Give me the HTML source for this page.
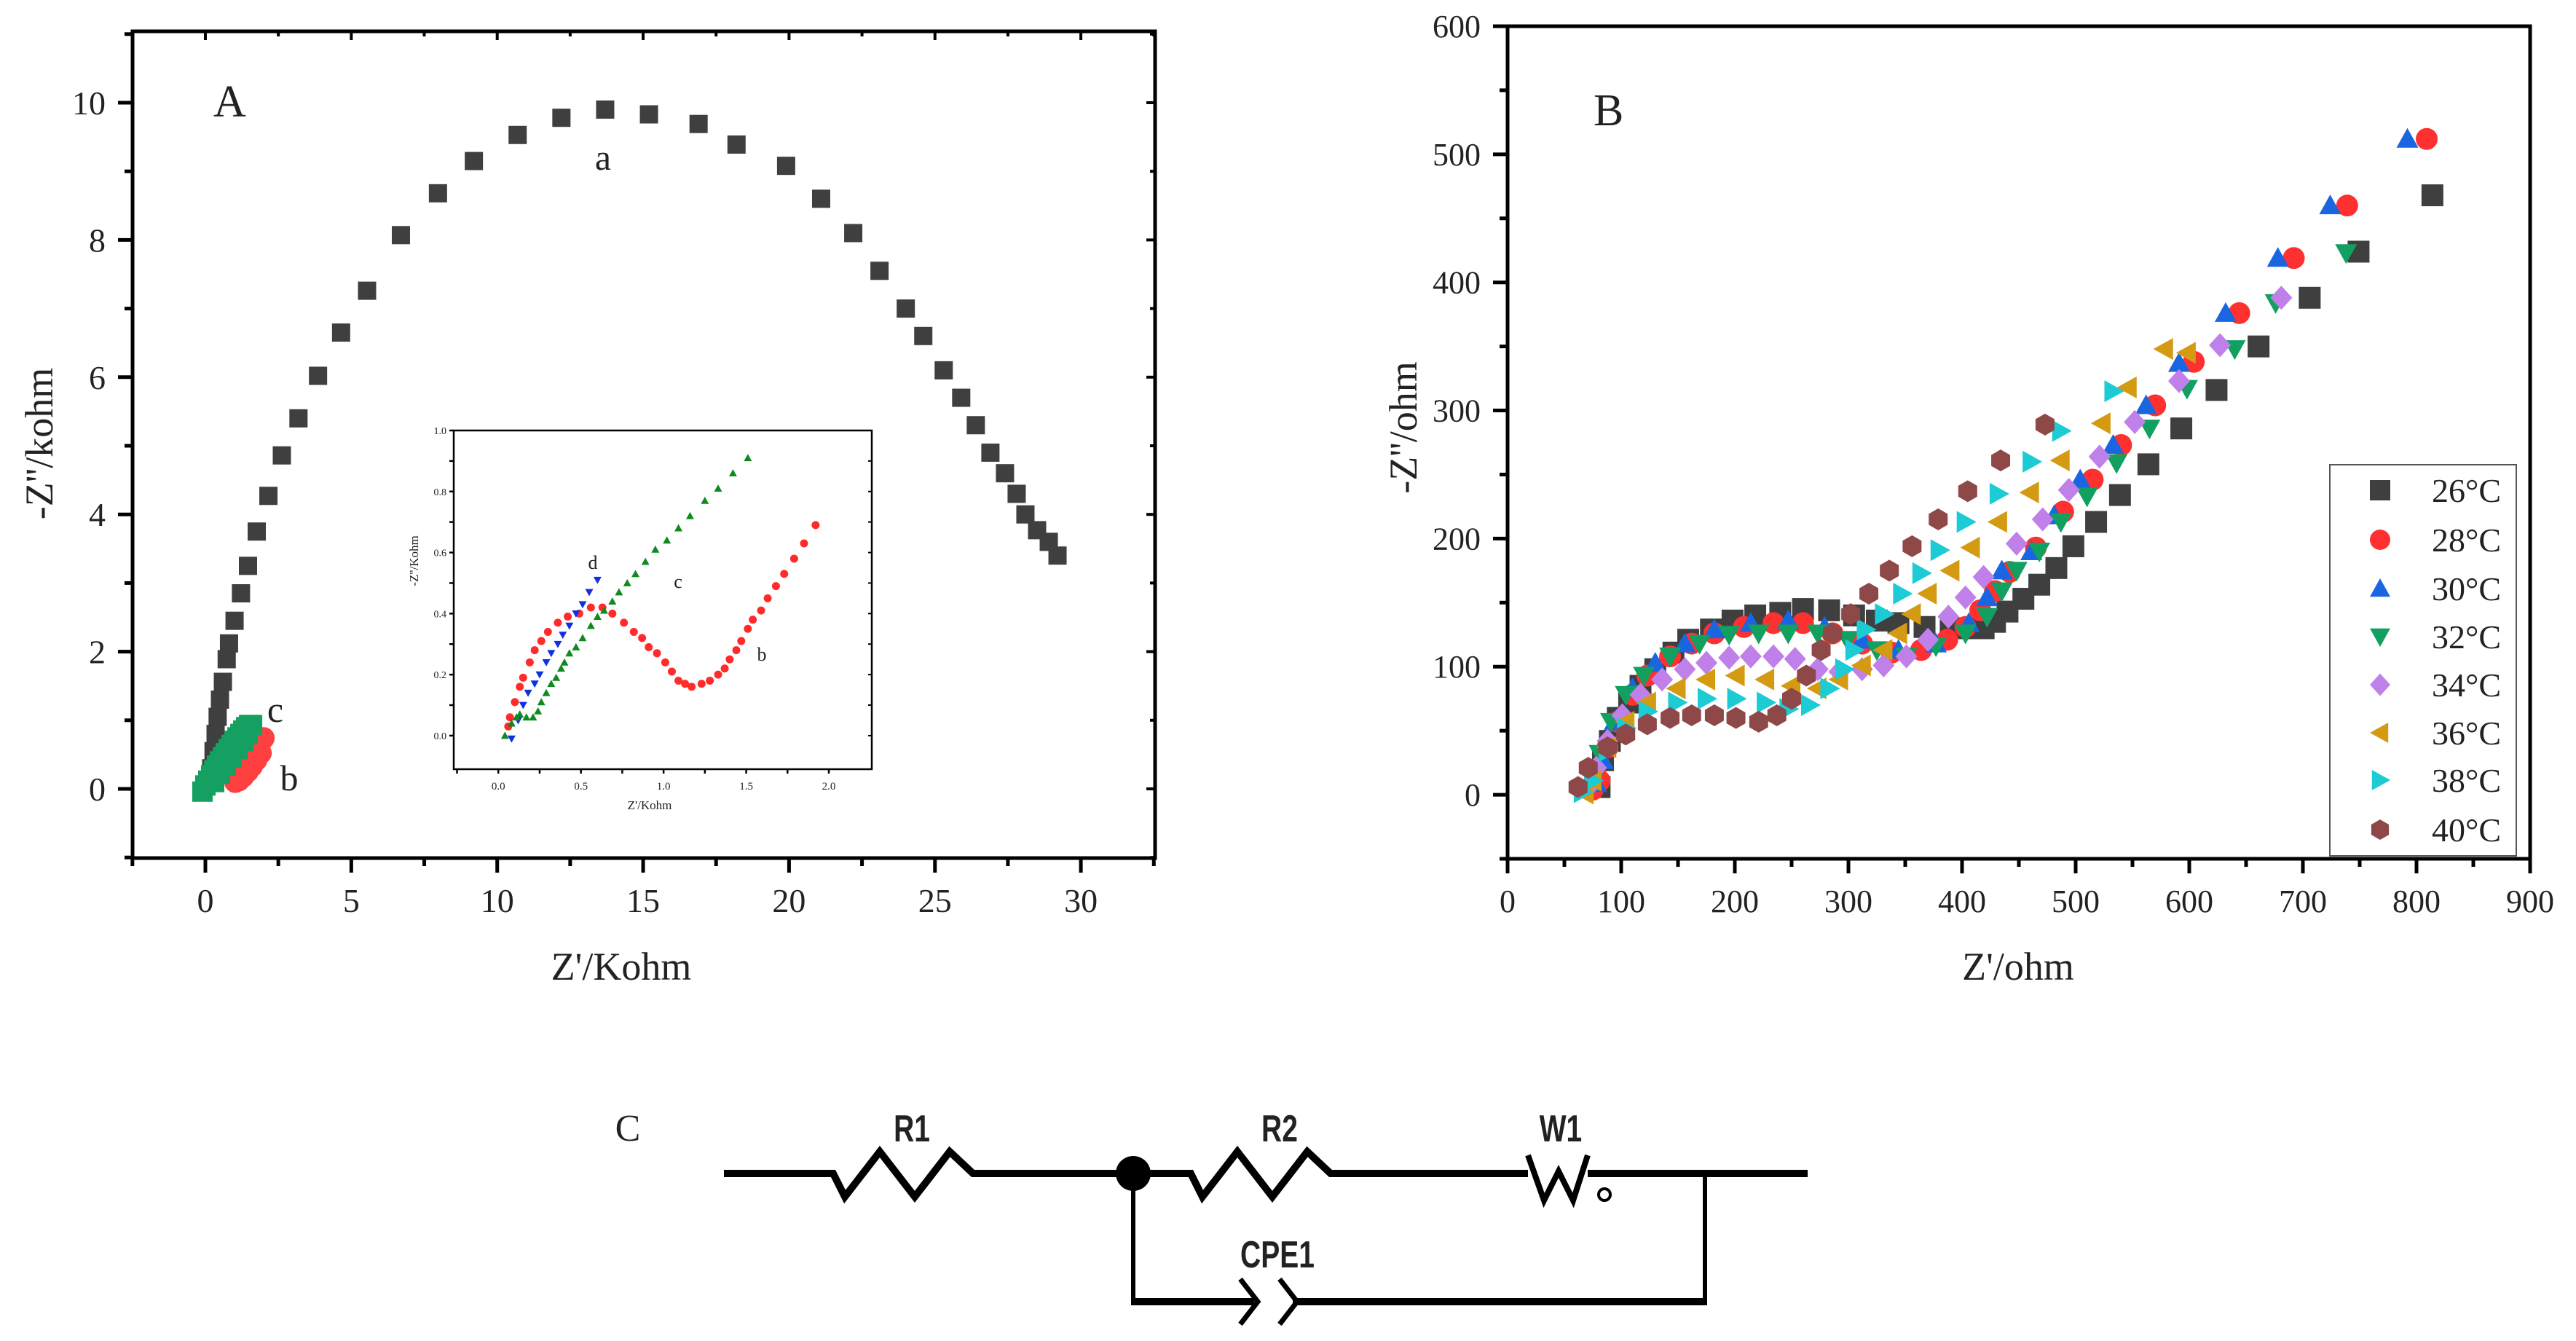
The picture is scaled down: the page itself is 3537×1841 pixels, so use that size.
<!DOCTYPE html>
<html><head><meta charset="utf-8"><style>
html,body{margin:0;padding:0;background:#fff;}
svg{display:block;}
text{font-family:"Liberation Serif",serif;fill:#222;}
</style></head><body>
<svg id="fig" width="3537" height="1841" viewBox="0 0 3537 1841" xmlns="http://www.w3.org/2000/svg">
<rect width="3537" height="1841" fill="#fff"/>
<g id="panelA"></g>
<g id="inset"></g>
<g id="panelB"></g>
<g id="circuit" stroke="#000" fill="none" stroke-linejoin="miter">
  <text x="862" y="1566" font-size="52" stroke="none" fill="#222" text-anchor="middle">C</text>
  <polyline stroke-width="10" points="994,1611 1144,1611 1160,1643 1208,1581 1256,1643 1304,1581 1336,1611 1635,1611 1651,1643 1699,1581 1747,1643 1795,1581 1827,1611 2098,1611"/>
  <polyline stroke-width="8" points="2098,1586 2120,1648 2140,1608 2160,1648 2180,1586"/>
  <circle cx="2203" cy="1640" r="8" stroke-width="4"/>
  <line stroke-width="10" x1="2180" y1="1611" x2="2482" y2="1611"/>
  <circle cx="1556" cy="1611" r="24" fill="#000" stroke="none"/>
  <line stroke-width="6" x1="1556" y1="1611" x2="1556" y2="1787"/>
  <line stroke-width="6" x1="2341" y1="1611" x2="2341" y2="1790"/>
  <line stroke-width="10" x1="1553" y1="1787" x2="1722" y2="1787"/>
  <line stroke-width="10" x1="1775" y1="1787" x2="2344" y2="1787"/>
  <polyline stroke-width="7" points="1703,1756 1727,1787 1703,1818"/>
  <polyline stroke-width="7" points="1757,1756 1781,1787 1757,1818"/>
  <g stroke="none" font-size="52" text-anchor="middle" font-weight="bold">
    <text x="1252" y="1567" style="font-family:'Liberation Sans',sans-serif" transform="translate(1252,0) scale(0.75,1) translate(-1252,0)">R1</text>
    <text x="1757" y="1567" style="font-family:'Liberation Sans',sans-serif" transform="translate(1757,0) scale(0.75,1) translate(-1757,0)">R2</text>
    <text x="2143" y="1567" style="font-family:'Liberation Sans',sans-serif" transform="translate(2143,0) scale(0.75,1) translate(-2143,0)">W1</text>
    <text x="1754" y="1740" style="font-family:'Liberation Sans',sans-serif" transform="translate(1754,0) scale(0.75,1) translate(-1754,0)">CPE1</text>
  </g>
</g>
</svg>
<script>
// ===== Panel A main data (kohm) =====
const aX = [29.2,28.9,28.5,28.1,27.8,27.4,26.9,26.4,25.9,25.3,24.6,24.0,23.1,22.2,21.1,19.9,18.2,16.9,15.2,13.7,12.2,10.7,9.2,7.97,6.7,5.54,4.65,3.86,3.19,2.62,2.16,1.76,1.46,1.22,1.0,0.81,0.73,0.6,0.5,0.42,0.35,0.28,0.2,0.12];
const aY = [3.4,3.6,3.77,4.0,4.3,4.6,4.9,5.3,5.7,6.1,6.6,7.0,7.55,8.1,8.6,9.08,9.39,9.69,9.83,9.9,9.78,9.53,9.15,8.68,8.07,7.26,6.65,6.02,5.4,4.86,4.27,3.75,3.25,2.85,2.45,2.12,1.89,1.56,1.3,1.05,0.8,0.55,0.3,0.1];
const bMainX = [1.02,1.1,1.2,1.3,1.4,1.5,1.6,1.7,1.8,1.9,2.0,1.15,1.3,1.45,1.6,1.75,1.9];
const bMainY = [0.1,0.16,0.23,0.3,0.37,0.43,0.5,0.56,0.62,0.68,0.74,0.12,0.18,0.25,0.33,0.42,0.52];
const cMainX = [-0.1,0.0,0.1,0.2,0.3,0.4,0.5,0.6,0.7,0.8,0.9,1.0,1.1,1.2,1.3,1.4,1.5,1.6,0.3,0.5,0.7,0.9,1.1,1.3,1.45];
const cMainY = [-0.04,0.05,0.12,0.2,0.27,0.34,0.4,0.46,0.52,0.58,0.64,0.7,0.75,0.8,0.85,0.9,0.93,0.93,0.1,0.22,0.34,0.46,0.58,0.7,0.8];
const dMainX = [0.0,0.05,0.1,0.15,0.2,0.25];
const dMainY = [-0.05,0.0,0.03,0.06,0.08,0.1];
const aXTicks = [0,5,10,15,20,25,30];
const aYTicks = [0,2,4,6,8,10];
// ===== Inset data =====
const inCX = [1.51,1.42,1.33,1.25,1.16,1.09,1.02,0.95,0.89,0.83,0.78,0.73,0.69,0.64,0.60,0.56,0.51,0.47,0.43,0.40,0.38,0.35,0.32,0.29,0.26,0.24,0.21,0.17,0.13,0.11,0.08,0.04];
const inCY = [0.91,0.86,0.81,0.77,0.72,0.68,0.64,0.61,0.57,0.53,0.50,0.47,0.44,0.41,0.39,0.36,0.32,0.29,0.27,0.24,0.22,0.19,0.17,0.14,0.11,0.08,0.06,0.06,0.07,0.06,0.04,0.00];
const inDX = [0.60,0.55,0.51,0.47,0.43,0.39,0.36,0.32,0.29,0.25,0.22,0.18,0.15,0.12,0.08];
const inDY = [0.51,0.47,0.43,0.40,0.36,0.33,0.30,0.27,0.24,0.20,0.17,0.14,0.10,0.05,-0.01];
const inBX = [1.92,1.85,1.79,1.73,1.68,1.63,1.59,1.54,1.51,1.47,1.44,1.40,1.37,1.33,1.28,1.23,1.17,1.13,1.09,1.05,1.01,0.96,0.91,0.87,0.82,0.76,0.69,0.63,0.56,0.49,0.42,0.36,0.30,0.26,0.22,0.19,0.15,0.13,0.10,0.07,0.06];
const inBY = [0.69,0.63,0.58,0.53,0.49,0.45,0.41,0.38,0.35,0.31,0.28,0.25,0.22,0.20,0.18,0.17,0.16,0.17,0.18,0.21,0.24,0.27,0.29,0.32,0.34,0.37,0.40,0.42,0.42,0.40,0.39,0.37,0.34,0.31,0.28,0.24,0.19,0.16,0.11,0.06,0.03];
const inXTicks = ["0.0","0.5","1.0","1.5","2.0"];
const inYTicks = ["0.0","0.2","0.4","0.6","0.8","1.0"];
// ===== Panel B data (ohm) =====
const bLabels = ["26°C","28°C","30°C","32°C","34°C","36°C","38°C","40°C"];
const t26x = [814,749,706,661,624,593,564,539,518,498,483,468,454,440,429,419,406,390,367,344,325,305,283,260,240,218,198,179,159,146,130,117,107,97,90,84,81];
const t26y = [468,424,388,350,316,286,258,234,213,194,177,164,153,143,135,130,130,130,131,134,136,140,144,145,142,140,136,129,121,111,98,85,72,60,42,27,6];
const t28x = [809,739,692,644,604,570,540,515,489,465,442,429,416,403,387,364,338,312,286,260,234,208,182,162,143,123,110,97,88,81,75];
const t28y = [512,460,419,376,338,304,273,246,221,193,174,159,144,131,121,113,111,118,126,134,134,131,126,118,108,93,78,57,37,11,4];
const t30x = [792,724,678,632,591,562,533,504,481,461,435,422,406,377,344,312,279,247,214,182,156,130,110,94,84,78];
const t30y = [512,460,419,376,337,304,273,246,218,190,175,154,134,118,113,121,131,136,134,129,118,103,83,57,27,9];
const t32x = [738,676,640,598,565,536,510,487,468,448,435,422,403,377,351,325,299,273,247,221,195,169,143,120,104,91,81,75];
const t32y = [423,384,348,317,286,259,233,213,190,175,159,139,126,116,108,113,121,126,126,126,125,118,108,93,78,57,32,11];
const t34x = [681,627,591,552,521,494,471,448,419,403,388,370,351,331,312,292,273,253,234,214,195,175,156,136,117,101,88,78,71];
const t34y = [388,351,323,291,264,238,215,196,170,154,139,121,108,101,98,96,98,106,108,108,107,103,98,90,78,62,42,21,6];
const t36x = [598,578,546,523,487,460,432,408,390,370,356,344,331,312,292,273,250,227,201,175,149,123,104,88,75,68];
const t36y = [345,348,318,290,261,236,213,193,175,157,141,126,113,101,90,83,85,90,93,90,83,72,57,37,11,1];
const t38x = [533,487,461,432,403,380,364,347,331,315,305,296,283,266,247,227,201,175,149,123,104,88,75,66];
const t38y = [315,284,260,235,213,191,173,157,141,129,113,98,83,70,67,72,75,75,72,65,52,34,11,2];
const t40x = [473,434,405,379,356,336,318,302,286,276,263,250,237,221,201,182,162,143,123,104,88,71,62];
const t40y = [289,261,237,215,194,175,157,141,126,113,93,75,62,57,60,62,62,60,55,47,37,21,6];
const bXTicks = [0,100,200,300,400,500,600,700,800,900];
const bYTicks = [0,100,200,300,400,500,600];

const NS = "http://www.w3.org/2000/svg";
function mk(parent, tag, attrs){ const e=document.createElementNS(NS,tag); for(const k in attrs) e.setAttribute(k,attrs[k]); parent.appendChild(e); return e; }

const A = {x0:282, kx:40.07, y0:1083, ky:94.2, L:182, R:1586, T:43, B:1178};
const ax = v => A.x0 + v*A.kx, ay = v => A.y0 - v*A.ky;
const I = {L:623, R:1197, T:591, B:1056, xmin:-0.27, xmax:2.26, ymin:-0.11, ymax:1.0};
const ix = v => I.L + (v-I.xmin)/(I.xmax-I.xmin)*(I.R-I.L);
const iy = v => I.B - (v-I.ymin)/(I.ymax-I.ymin)*(I.B-I.T);
const Bs = {L:2070, R:3474, T:36, B:1179, xmin:0, xmax:900, ymin:-50, ymax:600};
const bx = v => Bs.L + (v-Bs.xmin)/(Bs.xmax-Bs.xmin)*(Bs.R-Bs.L);
const by = v => Bs.B - (v-Bs.ymin)/(Bs.ymax-Bs.ymin)*(Bs.B-Bs.T);

function marker(g, shape, cx, cy, s, color){
  let e; const h=s/2;
  if(shape==="square") e=mk(g,"rect",{x:cx-h,y:cy-h,width:s,height:s,fill:color});
  else if(shape==="circle") e=mk(g,"circle",{cx:cx,cy:cy,r:h,fill:color});
  else {
    let pts;
    if(shape==="up") pts=[[0,-h],[h,h*0.8],[-h,h*0.8]];
    else if(shape==="down") pts=[[0,h],[h,-h*0.8],[-h,-h*0.8]];
    else if(shape==="left") pts=[[-h,0],[h*0.8,-h],[h*0.8,h]];
    else if(shape==="right") pts=[[h,0],[-h*0.8,-h],[-h*0.8,h]];
    else if(shape==="diamond") pts=[[0,-h*1.1],[h,0],[0,h*1.1],[-h,0]];
    else { pts=[]; for(let i=0;i<6;i++){const a=Math.PI/6+i*Math.PI/3; pts.push([h*Math.cos(a),h*Math.sin(a)]);} }
    e=mk(g,"polygon",{points:pts.map(p=>(cx+p[0])+","+(cy+p[1])).join(" "),fill:color});
  }
  return e;
}

function frame(g, L,R,T,B,w){
  const r=mk(g,"rect",{x:L,y:T,width:R-L,height:B-T,fill:"none",stroke:"#000","stroke-width":w});
  
  
}

(function(){
  const g=document.getElementById("panelA");
  frame(g,A.L,A.R,A.T,A.B,5);
  for(let v=-2.5; v<=32.5; v+=2.5){
    const x=ax(v); if(x<A.L-1||x>A.R+1) continue;
    const major = Math.abs(v%5)<1e-6;
    const t=mk(g,"line",{x1:x,y1:A.B,x2:x,y2:A.B+(major?20:11),stroke:"#000","stroke-width":5});
     
    const t2=mk(g,"line",{x1:x,y1:A.T,x2:x,y2:A.T+(major?12:7),stroke:"#000","stroke-width":4});
     
  }
  aXTicks.forEach(v=>{ const t=mk(g,"text",{x:ax(v),y:1252,"font-size":46,"text-anchor":"middle"}); t.textContent=v;
      });
  for(let v=-1; v<=11; v+=1){
    const y=ay(v); if(y<A.T-1||y>A.B+1) continue;
    const major = v%2===0;
    const t=mk(g,"line",{x1:A.L,y1:y,x2:A.L-(major?20:11),y2:y,stroke:"#000","stroke-width":5});
     
    const t2=mk(g,"line",{x1:A.R,y1:y,x2:A.R-(major?12:7),y2:y,stroke:"#000","stroke-width":4});
     
  }
  aYTicks.forEach(v=>{ const t=mk(g,"text",{x:145,y:ay(v)+16,"font-size":46,"text-anchor":"end"}); t.textContent=v;
      });
  let t=mk(g,"text",{x:853,y:1345,"font-size":54,"text-anchor":"middle"}); t.textContent="Z'/Kohm";
   
  t=mk(g,"text",{x:0,y:0,"font-size":54,"text-anchor":"middle",transform:"translate(72,609) rotate(-90)"}); t.textContent="-Z''/kohm";
   
  t=mk(g,"text",{x:293,y:160,"font-size":62}); t.textContent="A";
   
  const sa=mk(g,"g",{});  
  aX.forEach((v,i)=>{ const m=marker(sa,"square",ax(v),ay(aY[i]),25,"#3f3f3f");   });
  const sb=mk(g,"g",{});  
  bMainX.forEach((v,i)=>{ const m=marker(sb,"circle",ax(v),ay(bMainY[i]),30,"#ff4040");   });
  const sd=mk(g,"g",{});  
  dMainX.forEach((v,i)=>{ const m=marker(sd,"down",ax(v),ay(dMainY[i]),24,"#1a50e0");   });
  const sc=mk(g,"g",{});  
  cMainX.forEach((v,i)=>{ const m=marker(sc,"square",ax(v),ay(cMainY[i]),28,"#14a060");   });
  t=mk(g,"text",{x:828,y:233,"font-size":50,"text-anchor":"middle"}); t.textContent="a";
   
  t=mk(g,"text",{x:378,y:991,"font-size":50,"text-anchor":"middle"}); t.textContent="c";
   
  t=mk(g,"text",{x:397,y:1085,"font-size":50,"text-anchor":"middle"}); t.textContent="b";
   
})();

(function(){
  const g=document.getElementById("inset");
  const bg=mk(g,"rect",{x:I.L,y:I.T,width:I.R-I.L,height:I.B-I.T,fill:"#fff"});
   
  frame(g,I.L,I.R,I.T,I.B,2.5);
  for(let k=0;k<=9;k++){ const v=-0.25+k*0.25; const x=ix(v); if(x<I.L||x>I.R) continue;
    const t=mk(g,"line",{x1:x,y1:I.B,x2:x,y2:I.B+6,stroke:"#000","stroke-width":2.5});
      }
  inXTicks.forEach(s=>{ const t=mk(g,"text",{x:ix(parseFloat(s)),y:I.B+28,"font-size":15,"text-anchor":"middle"}); t.textContent=s;
      });
  for(let k=0;k<=10;k++){ const v=k*0.1; const y=iy(v);
    const t=mk(g,"line",{x1:I.L,y1:y,x2:I.L-6,y2:y,stroke:"#000","stroke-width":2.5});
     
    const t2=mk(g,"line",{x1:I.R,y1:y,x2:I.R-5,y2:y,stroke:"#000","stroke-width":2});
      }
  inYTicks.forEach(s=>{ const t=mk(g,"text",{x:I.L-10,y:iy(parseFloat(s))+5,"font-size":14,"text-anchor":"end"}); t.textContent=s;
      });
  let t=mk(g,"text",{x:(I.L+I.R)/2-18,y:I.B+55,"font-size":17,"text-anchor":"middle"}); t.textContent="Z'/Kohm";
   
  t=mk(g,"text",{x:0,y:0,"font-size":17,"text-anchor":"middle",transform:"translate(574,770) rotate(-90)"}); t.textContent="-Z''/Kohm";
   
  const sb=mk(g,"g",{});  
  inBX.forEach((v,i)=>{ const m=marker(sb,"circle",ix(v),iy(inBY[i]),11,"#ff2a2a");   });
  const sd=mk(g,"g",{});  
  inDX.forEach((v,i)=>{ const m=marker(sd,"down",ix(v),iy(inDY[i]),11,"#1030e0");   });
  const sc=mk(g,"g",{});  
  inCX.forEach((v,i)=>{ const m=marker(sc,"up",ix(v),iy(inCY[i]),11,"#108a20");   });
  [["d",814,781],["c",931,807],["b",1046,907]].forEach(a=>{ const t=mk(g,"text",{x:a[1],y:a[2],"font-size":26,"text-anchor":"middle"}); t.textContent=a[0];
      });
})();

(function(){
  const g=document.getElementById("panelB");
  frame(g,Bs.L,Bs.R,Bs.T,Bs.B,5);
  for(let v=0; v<=900; v+=50){ const x=bx(v); const major=v%100===0;
    const t=mk(g,"line",{x1:x,y1:Bs.B,x2:x,y2:Bs.B+(major?20:11),stroke:"#000","stroke-width":5});
      }
  bXTicks.forEach(v=>{ const t=mk(g,"text",{x:bx(v),y:1252,"font-size":44,"text-anchor":"middle"}); t.textContent=v;
      });
  for(let v=-50; v<=600; v+=50){ const y=by(v); const major=v%100===0;
    const t=mk(g,"line",{x1:Bs.L,y1:y,x2:Bs.L-(major?20:11),y2:y,stroke:"#000","stroke-width":5});
      }
  bYTicks.forEach(v=>{ const t=mk(g,"text",{x:2033,y:by(v)+15,"font-size":44,"text-anchor":"end"}); t.textContent=v;
      });
  let t=mk(g,"text",{x:2771,y:1345,"font-size":54,"text-anchor":"middle"}); t.textContent="Z'/ohm";
   
  t=mk(g,"text",{x:0,y:0,"font-size":54,"text-anchor":"middle",transform:"translate(1945,587) rotate(-90)"}); t.textContent="-Z''/ohm";
   
  t=mk(g,"text",{x:2188,y:172,"font-size":62}); t.textContent="B";
   
  const sx=[t26x,t28x,t30x,t32x,t34x,t36x,t38x,t40x];
  const sy=[t26y,t28y,t30y,t32y,t34y,t36y,t38y,t40y];
  const shapes=["square","circle","up","down","diamond","left","right","hex"];
  const colors=["#3f3f3f","#ff3030","#1a66e0","#12a060","#c080ea","#d49a12","#1ccbd4","#8e4848"];
  for(let s=0;s<8;s++){
    const sg=mk(g,"g",{}); 
    
    sx[s].forEach((v,i)=>{ const m=marker(sg,shapes[s],bx(v),by(sy[s][i]),30,colors[s]);
        });
  }
  const lg=mk(g,"g",{});  
  const lb=mk(lg,"rect",{x:3199,y:638,width:256,height:537,fill:"#fff",stroke:"#555","stroke-width":2});
   
  const rows=[673,741,808,874,940,1006,1071,1139];
  for(let s=0;s<8;s++){
    const m=marker(lg,shapes[s],3268,rows[s],28,colors[s]);
     
    const tt=mk(lg,"text",{x:3339,y:rows[s]+16,"font-size":46}); tt.textContent=bLabels[s];
     
  }
})();
</script>
</body></html>
